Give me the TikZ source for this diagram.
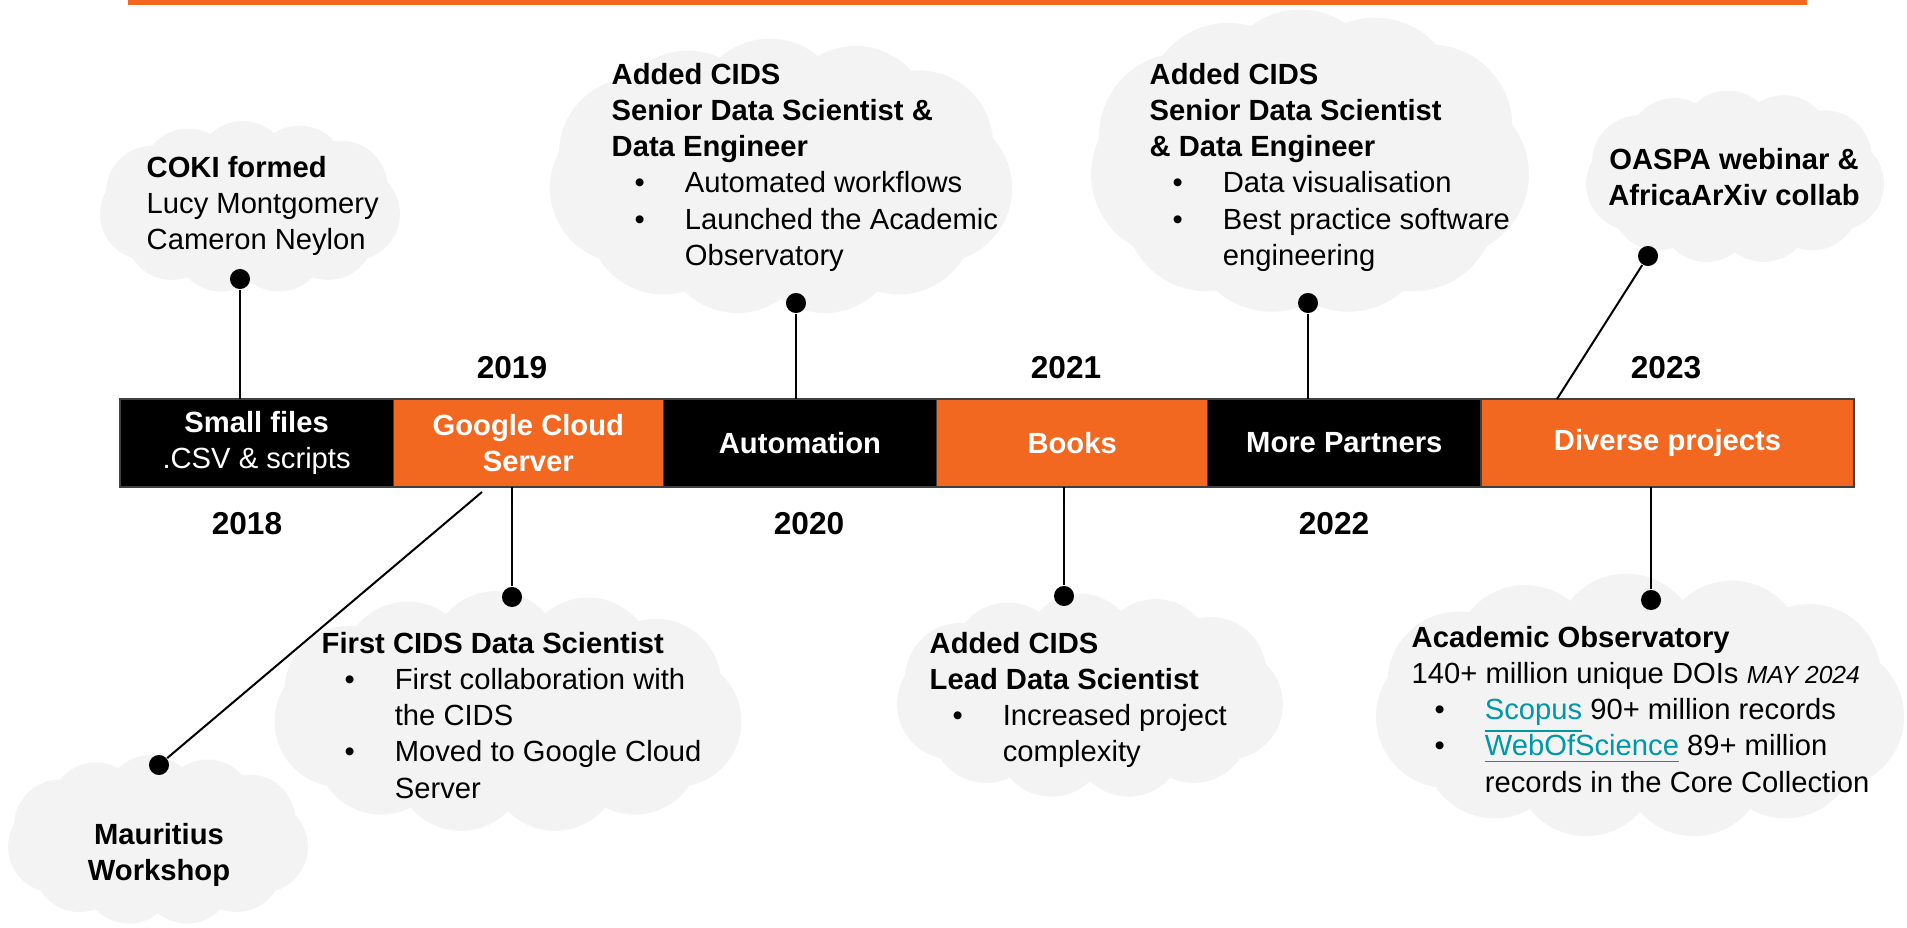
\documentclass[tikz,border=0pt]{standalone}
\usepackage{fontspec}
\setmainfont{Liberation Sans}

\definecolor{cokiorange}{RGB}{243,104,33}
\definecolor{cloudgrey}{RGB}{243,243,243}
\definecolor{linkteal}{RGB}{0,151,167}

\newcommand{\bul}{\hspace*{6.5pt}\makebox[14.3pt][l]{\textbullet}}
\newcommand{\hang}{\hspace*{20.8pt}}
\newcommand{\linktxt}[1]{\textcolor{linkteal}{\underline{#1}}}
% puffy cloud: centre x, centre y, width, height
\newcommand{\puffcloud}[4]{%
  \pgfmathsetmacro{\pr}{0.27*min(#3,#4)}%
  \pgfmathsetmacro{\pa}{#3/2-\pr}%
  \pgfmathsetmacro{\pb}{#4/2-\pr}%
  \fill[cloudgrey] (#1,#2) ellipse [x radius=\pa, y radius=\pb];
  \foreach \t in {10,42,...,330}
    \fill[cloudgrey] ({#1+\pa*cos(\t)},{#2+\pb*sin(\t)}) circle [radius=\pr];
}

\begin{document}
\begin{tikzpicture}[x=0.01cm, y=-0.01cm,
    seg/.style={draw=black!75, line width=0.4pt, outer sep=0, rectangle, minimum height=25pt, inner sep=0, text=white, align=center, font=\fontsize{8.3}{10.25}\selectfont\bfseries},
    pin/.style={circle, fill=black, minimum size=5.7pt, inner sep=0},
    txt/.style={inner sep=0, align=left, font=\fontsize{8.3}{10.25}\selectfont},
    year/.style={inner sep=0, font=\fontsize{9}{11}\selectfont\bfseries},
    stem/.style={line width=0.57pt}]

    \useasboundingbox (0,0) rectangle (1907,928);
    \fill[cokiorange] (128,0) rectangle (1807,5);

    %% clouds
    \puffcloud{250}{207}{303}{172}
    \puffcloud{781}{177}{467}{277}
    \puffcloud{1310}{162}{442}{305}
    \puffcloud{1735}{177}{301}{173}
    \puffcloud{508}{712}{472}{242}
    \puffcloud{158}{840}{303}{170}
    \puffcloud{1090}{696}{390}{205}
    \puffcloud{1640}{706}{534}{265}

    %% timeline
    \path
    (120,443)node[seg, fill=black, minimum width=77.7pt, anchor=180](small){Small files\\{\mdseries .CSV \& scripts}}
    (small.0)node[seg, fill=cokiorange, minimum width=76.8pt, anchor=180](google){Google Cloud\\Server}
    (google.0)node[seg, fill=black, minimum width=77.7pt, anchor=180](auto){Automation}
    (auto.0)node[seg, fill=cokiorange, minimum width=77.1pt, anchor=180](books){Books}
    (books.0)node[seg, fill=black, minimum width=77.7pt, anchor=180](partners){More Partners}
    (partners.0)node[seg, fill=cokiorange, minimum width=106.1pt, anchor=180](diverse){Diverse projects};

    \node[year] (y2019) at (512,368) {2019};
    \node[year] (y2021) at (1066,368) {2021};
    \node[year] (y2023) at (1666,368) {2023};
    \node[year] (y2018) at (247,524) {2018};
    \node[year] (y2020) at (809,524) {2020};
    \node[year] (y2022) at (1334,524) {2022};

    %% pins
    \node[pin] (cokidot) at (240,279) {};
    \node[pin] (cids20dot) at (796,303) {};
    \node[pin] (cids22dot) at (1308,303) {};
    \node[pin] (oaspadot) at (1648,256) {};
    \node[pin] (firstdot) at (512,597) {};
    \node[pin] (mauridot) at (159,765) {};
    \node[pin] (leaddot) at (1064,596) {};
    \node[pin] (aodot) at (1651,600) {};
    \coordinate (oaspaend) at (1557,399);
    \coordinate (mauriend) at (482,492);

    %% texts
    \node[txt, anchor=north west] (cokitxt) at (146,156) {\textbf{COKI formed}\\Lucy Montgomery\\Cameron Neylon};
    \node[txt, anchor=north west] (cids20txt) at (611,63) {\textbf{Added CIDS}\\\textbf{Senior Data Scientist \&}\\\textbf{Data Engineer}\\\bul Automated workflows\\\bul Launched the Academic\\\hang Observatory};
    \node[txt, anchor=north west] (cids22txt) at (1149,63) {\textbf{Added CIDS}\\\textbf{Senior Data Scientist}\\\textbf{\& Data Engineer}\\\bul Data visualisation\\\bul Best practice software\\\hang engineering};
    \node[txt, anchor=north, align=center] (oaspatxt) at (1734,148) {\textbf{OASPA webinar \&}\\\textbf{AfricaArXiv collab}};
    \node[txt, anchor=north west] (firsttxt) at (321,632) {\textbf{First CIDS Data Scientist}\\\bul First collaboration with\\\hang the CIDS\\\bul Moved to Google Cloud\\\hang Server};
    \node[txt, anchor=north, align=center] (mauritxt) at (159,823) {\textbf{Mauritius}\\\textbf{Workshop}};
    \node[txt, anchor=north west] (leadtxt) at (929,632) {\textbf{Added CIDS}\\\textbf{Lead Data Scientist}\\\bul Increased project\\\hang complexity};
    \node[txt, anchor=north west] (aotxt) at (1411,626) {\textbf{Academic Observatory}\\140+ million unique DOIs {\fontsize{7}{8}\selectfont\itshape MAY 2024}\\\bul\linktxt{Scopus} 90+ million records\\\bul\linktxt{WebOfScience} 89+ million\\\hang records in the Core Collection};

    %% stems
    \draw[stem] (cokidot) -- (cokidot |- small.north);
    \draw[stem] (cids20dot) -- (cids20dot |- auto.north);
    \draw[stem] (cids22dot) -- (cids22dot |- partners.north);
    \draw[stem] (oaspadot) -- (oaspaend);
    \draw[stem] (firstdot |- google.south) -- (firstdot);
    \draw[stem] (mauriend) -- (mauridot);
    \draw[stem] (leaddot |- books.south) -- (leaddot);
    \draw[stem] (aodot |- diverse.south) -- (aodot);
\end{tikzpicture}
\end{document}
